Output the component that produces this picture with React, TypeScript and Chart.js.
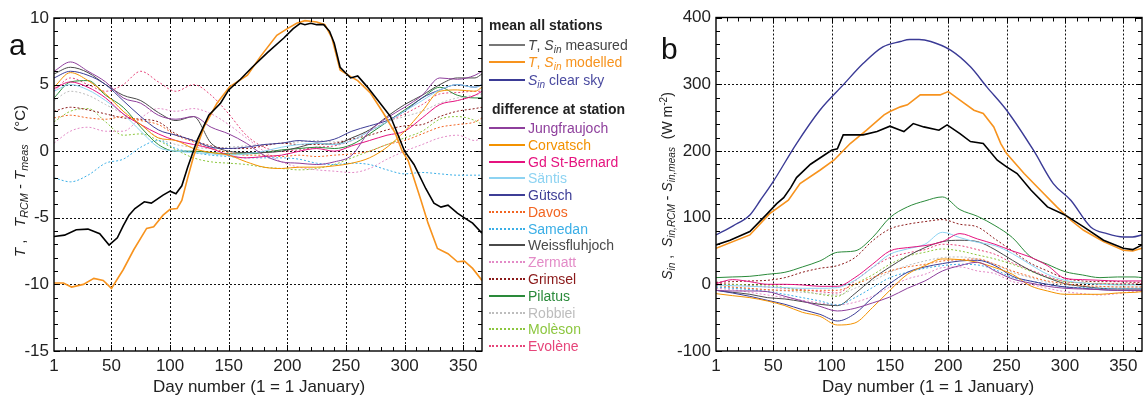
import React, { useEffect, useRef } from 'react';
import { Chart, registerables } from 'chart.js';

Chart.register(...registerables);

const FONT = "'Liberation Sans', Arial, Helvetica, sans-serif";

// ---------- axes ----------
const dayTicks = [1, 50, 100, 150, 200, 250, 300, 350];
const dayGrid = [50, 100, 150, 200, 250, 300, 350];
const tempTicks = [-15, -10, -5, 0, 5, 10];
const tempGrid = [-10, -5, 0, 5];
const radTicks = [-100, 0, 100, 200, 300, 400];
const radGrid = [0, 100, 200, 300];

// ---------- panel a: mean temperature ----------
const tMeasDays = [1, 10, 20, 30, 40, 48, 55, 60, 65, 70, 78, 84, 94, 100, 105, 110, 115, 123, 133, 143, 150, 160, 170, 183, 197, 205, 211, 215, 220, 225, 231, 236, 240, 245, 254, 260, 268, 277, 288, 300, 308, 318, 325, 331, 337, 345, 351, 358, 366];
const tMeas = [-6.4, -6.3, -5.9, -5.85, -6.2, -7.05, -6.5, -5.6, -4.8, -4.3, -3.8, -3.9, -3.3, -3.0, -3.2, -2.6, -1.2, 0.8, 2.7, 3.6, 4.6, 5.4, 6.3, 7.4, 8.5, 9.2, 9.6, 9.5, 9.6, 9.5, 9.5, 9.0, 8.1, 6.3, 5.5, 5.65, 4.85, 3.85, 2.6, 0.0, -1.0, -2.8, -3.9, -4.2, -4.05, -4.65, -5.0, -5.4, -6.15];

const tModDays = [1, 9, 16, 26, 35, 43, 50, 60, 69, 80, 86, 94, 100, 106, 110, 115, 120, 129, 140, 151, 166, 177, 191, 200, 208, 215, 225, 232, 238, 245, 254, 260, 271, 282, 292, 298, 303, 314, 320, 328, 337, 345, 351, 358, 366];
const tMod = [-9.9, -9.9, -10.2, -10.0, -9.55, -9.7, -10.3, -8.9, -7.4, -5.8, -5.67, -4.8, -4.36, -4.3, -3.7, -2.0, -0.4, 1.84, 3.6, 4.85, 5.7, 7.1, 8.7, 9.2, 9.6, 9.8, 9.7, 9.5, 8.5, 6.1, 5.6, 5.3, 4.35, 2.85, 1.35, 0.0, -0.7, -3.7, -5.4, -7.3, -7.7, -8.3, -8.25, -8.8, -9.7];

// ---------- panel b: mean radiation ----------
const sClearDays = [1, 16, 30, 39, 50, 70, 90, 110, 127, 144, 159, 167, 175, 185, 202, 219, 233, 250, 273, 290, 305, 322, 336, 350, 358, 366];
const sClear = [74, 88, 104, 126, 154, 211, 261, 299, 331, 356, 364, 367, 367, 364, 351, 326, 296, 261, 201, 151, 126, 86, 76, 71, 71, 74];

const sMeasDays = [1, 13, 30, 45, 53, 59, 65, 70, 82, 100, 105, 110, 127, 139, 150, 159, 162, 170, 179, 192, 199, 210, 219, 230, 242, 250, 259, 271, 285, 300, 316, 333, 350, 358, 366];
const sMeas = [59, 66, 79, 106, 121, 130, 145, 160, 180, 201, 203, 224, 224, 229, 237, 231, 229, 241, 236, 231, 239, 226, 214, 211, 186, 176, 166, 141, 116, 104, 86, 66, 54, 52, 59];

const sModDays = [1, 30, 47, 63, 73, 90, 102, 116, 130, 145, 150, 159, 165, 176, 193, 200, 210, 222, 230, 239, 245, 250, 265, 279, 293, 305, 316, 333, 350, 358, 366];
const sMod = [54, 74, 106, 126, 151, 171, 186, 211, 231, 254, 259, 266, 269, 284, 284, 289, 276, 261, 256, 236, 211, 196, 166, 141, 116, 96, 81, 64, 51, 50, 54];

// ---------- station differences ----------
const stationDays = [1, 15, 30, 45, 60, 75, 90, 105, 120, 135, 150, 165, 180, 195, 210, 225, 240, 255, 270, 285, 300, 315, 330, 345, 360, 366];

const tJungfraujoch = [6.0, 6.7, 6.0, 5.2, 4.0, 3.6, 2.7, 2.4, 2.6, 1.8, 1.3, 0.6, -0.3, -0.8, -0.9, -1.0, -0.8, -0.3, 1.5, 2.5, 3.3, 4.2, 5.5, 5.4, 5.7, 6.0];
const tCorvatsch = [4.8, 5.9, 5.3, 4.3, 3.0, 2.0, 1.0, 0.8, 0.2, -0.1, -0.3, -0.8, -1.2, -1.3, -1.2, -1.2, -1.1, -0.9, -0.5, 0.3, 1.5, 3.0, 4.5, 4.6, 4.5, 4.8];
const tGdStBernard = [4.7, 5.2, 4.8, 4.0, 2.8, 2.0, 1.3, 0.8, 0.5, 0.2, -0.3, -0.5, -0.4, -0.3, 0.0, 0.2, 0.0, 0.4, 0.8, 1.2, 1.5, 2.5, 3.5, 3.8, 4.2, 4.5];
const tSantis = [4.5, 5.0, 4.6, 3.8, 2.8, 1.5, 0.3, 0.0, -0.1, -0.2, -0.3, -0.2, 0.0, 0.3, 0.5, 0.6, 0.5, 0.8, 1.5, 2.2, 3.0, 3.8, 4.6, 5.0, 4.8, 5.0];
const tGutsch = [5.5, 6.0, 5.7, 5.0, 3.8, 2.6, 1.6, 1.2, 0.8, 0.3, 0.2, 0.3, 0.5, 0.6, 0.8, 0.7, 0.9, 1.5, 1.9, 2.3, 3.0, 4.0, 4.6, 5.0, 4.8, 5.0];
const tDavos = [2.5, 2.7, 2.5, 2.4, 2.6, 2.3, 2.0, 1.2, 0.7, 0.2, -0.1, -0.3, -0.3, -0.4, -0.3, -0.4, -0.3, -0.2, 0.0, 0.5, 0.8, 1.3, 1.8, 2.0, 2.2, 2.5];
const tSamedan = [-2.0, -2.3, -1.8, -0.9, -0.6, 0.3, 0.8, 0.2, -0.1, -0.3, -0.4, -0.5, -0.5, -0.5, -0.6, -0.9, -1.0, -0.9, -1.0, -1.4, -1.7, -1.6, -1.7, -1.8, -1.8, -1.8];
const tWeissfluhjoch = [5.8, 6.3, 5.9, 5.0, 4.2, 3.8, 2.9, 2.3, 2.6, 0.6, 0.0, -0.1, -0.1, 0.0, 0.3, 0.6, 0.5, 1.0, 1.6, 2.6, 3.5, 4.2, 5.0, 5.5, 5.5, 5.8];
const tZermatt = [0.6, 1.5, 1.8, 1.5, 1.5, 2.5, 3.2, 3.0, 3.2, 2.8, 2.0, 1.0, 0.0, -0.8, -1.2, -1.4, -1.5, -1.6, -1.3, -0.6, 0.0, 0.5, 1.0, 1.2, 0.8, 1.0];
const tGrimsel = [3.0, 3.3, 3.1, 2.8, 2.5, 2.4, 2.2, 1.3, 0.8, 0.4, 0.2, 0.2, 0.4, 0.6, 0.5, 0.5, 0.6, 0.9, 1.2, 1.6, 1.9, 2.0, 2.6, 3.0, 3.2, 3.3];
const tPilatus = [4.0, 5.2, 5.3, 4.2, 3.3, 1.8, 0.5, 0.0, 0.0, -0.1, -0.2, -0.2, -0.1, 0.1, 0.2, 0.3, 0.2, 0.5, 1.3, 2.2, 3.1, 4.0, 4.8, 4.2, 4.0, 4.0];
const tRobbiei = [3.8, 4.5, 4.2, 3.5, 2.8, 2.0, 1.0, 0.5, 0.3, 0.2, 0.3, 0.4, 0.5, 0.6, 0.7, 0.8, 0.7, 1.0, 1.6, 2.2, 2.6, 3.0, 3.6, 4.0, 4.2, 4.3];
const tMoleson = [2.2, 3.0, 3.2, 2.2, 1.2, 1.3, 0.8, 0.1, -0.5, -0.8, -0.9, -1.0, -1.2, -1.3, -1.4, -1.3, -1.0, -0.5, 0.0, 0.5, 1.0, 1.5, 2.4, 2.6, 2.3, 2.0];
const tEvolene = [4.5, 5.5, 5.0, 4.5, 5.0, 6.0, 5.2, 4.5, 5.0, 4.2, 2.8, 1.2, 0.3, 0.0, 0.1, 0.3, 0.4, 0.8, 1.5, 2.2, 2.8, 3.5, 4.3, 4.4, 4.5, 4.5];

const sJungfraujoch = [-9, -10, -10, -11, -18, -25, -33, -40, -36, -28, -19, -6, 5, 20, 28, 33, 20, 8, 2, -3, -6, -7, -8, -9, -9, -9];
const sCorvatsch = [-14, -17, -20, -25, -32, -42, -48, -61, -58, -35, -9, 15, 28, 38, 37, 33, 25, 15, -2, -10, -15, -15, -15, -13, -12, -11];
const sGdStBernard = [1, 7, 4, 0, 0, -1, -3, -3, 10, 30, 50, 55, 58, 64, 76, 68, 60, 50, 41, 28, 9, 7, 6, 5, 5, 5];
const sSantis = [-1, -2, -3, -4, -5, -6, -6, -5, 6, 25, 45, 53, 60, 78, 70, 63, 58, 46, 30, 15, 6, 2, 0, -1, -1, -1];
const sGutsch = [-9, -13, -18, -24, -30, -38, -45, -55, -44, -20, 1, 18, 26, 31, 35, 36, 28, 12, 5, 0, -4, -6, -8, -9, -9, -9];
const sDavos = [-1.5, -4, -6, -8, -9, -9, -9, -9, 0, 10, 20, 26, 30, 35, 37, 38, 30, 20, 12, 5, 1, -2, -3, -4, -4, -4];
const sSamedan = [-4, -6, -8, -11, -15, -20, -25, -31, -20, -5, 10, 18, 24, 28, 30, 29, 22, 10, 5, 0, -4, -5, -6, -6, -6, -6];
const sWeissfluhjoch = [-9, -12, -15, -20, -22, -26, -30, -32, -14, 8, 26, 42, 55, 64, 66, 64, 52, 36, 21, 10, 1, -3, -6, -7, -7, -7];
const sZermatt = [-6, -8, -12, -16, -20, -24, -28, -31, -27, -18, -4, 8, 15, 25, 26, 20, 16, 4, 0, -6, -11, -14, -16, -14, -11, -11];
const sGrimsel = [3, 4, 5, 6, 10, 18, 24, 28, 40, 65, 83, 90, 94, 97, 90, 86, 68, 50, 32, 20, 9, 5, 4, 4, 3, 3];
const sPilatus = [10, 11, 12, 15, 18, 26, 35, 48, 50, 70, 100, 116, 125, 131, 112, 102, 88, 70, 42, 30, 19, 14, 10, 11, 11, 10];
const sRobbiei = [-4, -5, -7, -9, -10, -12, -14, -16, -6, 5, 18, 28, 35, 40, 41, 38, 30, 18, 10, 3, -1, -3, -4, -4, -4, -4];
const sMoleson = [0, 0, -1, -1, -5, -10, -15, -18, 0, 14, 30, 42, 48, 53, 50, 44, 38, 30, 20, 10, 4, 2, 1, 0, 0, 0];
const sEvolene = [2, 0, -2, -4, -6, -8, -11, -13, 5, 25, 40, 47, 52, 60, 58, 52, 45, 32, 22, 12, 4, 2, 1, 1, 1, 1];

// ---------- station styles ----------
const stationNames = ['Jungfraujoch', 'Corvatsch', 'Gd St-Bernard', 'Säntis', 'Gütsch', 'Davos', 'Samedan', 'Weissfluhjoch', 'Zermatt', 'Grimsel', 'Pilatus', 'Robbiei', 'Molèson', 'Evolène'];
const stationColors = ['#8e3f9c', '#f39200', '#e5137f', '#8dd3f2', '#3d3d96', '#f26522', '#3aaee6', '#4a4a4a', '#e38bc7', '#8b1a1a', '#2a8a3a', '#bdbdbd', '#8cc63e', '#e6457a'];
const stationDotted = [false, false, false, false, false, true, true, false, true, true, false, true, true, true];
const stationTemp = [tJungfraujoch, tCorvatsch, tGdStBernard, tSantis, tGutsch, tDavos, tSamedan, tWeissfluhjoch, tZermatt, tGrimsel, tPilatus, tRobbiei, tMoleson, tEvolene];
const stationRad = [sJungfraujoch, sCorvatsch, sGdStBernard, sSantis, sGutsch, sDavos, sSamedan, sWeissfluhjoch, sZermatt, sGrimsel, sPilatus, sRobbiei, sMoleson, sEvolene];

const measColor = '#000000';
const modColor = '#f7931e';
const clearColor = '#3b3b96';

function series(label: string, days: number[], vals: number[], color: string, width: number, dotted: boolean, smooth: boolean) {
  return {
    label,
    data: days.map((d, i) => ({ x: d, y: vals[i] })),
    borderColor: color,
    backgroundColor: color,
    borderWidth: width,
    borderDash: dotted ? [2, 2] : [],
    pointRadius: 0,
    pointHoverRadius: 0,
    tension: 0,
    cubicInterpolationMode: smooth ? ('monotone' as const) : ('default' as const),
    fill: false,
  };
}

function framePlugin(cfg: { xGrid: number[]; yGrid: number[]; yMin: number; yMax: number; yMinor: number; yMajor: number }) {
  return {
    id: 'frameTicks',
    beforeDatasetsDraw(chart: any) {
      const { ctx, chartArea: a } = chart;
      const xs = chart.scales.x;
      const ys = chart.scales.y;
      ctx.save();
      ctx.strokeStyle = '#111';
      ctx.lineWidth = 1;
      ctx.setLineDash([2, 2]);
      ctx.beginPath();
      cfg.xGrid.forEach((v) => {
        const p = Math.round(xs.getPixelForValue(v)) + 0.5;
        ctx.moveTo(p, a.top);
        ctx.lineTo(p, a.bottom);
      });
      cfg.yGrid.forEach((v) => {
        const p = Math.round(ys.getPixelForValue(v)) + 0.5;
        ctx.moveTo(a.left, p);
        ctx.lineTo(a.right, p);
      });
      ctx.stroke();
      ctx.restore();
    },
    afterDatasetsDraw(chart: any) {
      const { ctx, chartArea: a } = chart;
      const xs = chart.scales.x;
      const ys = chart.scales.y;
      ctx.save();
      ctx.strokeStyle = '#000';
      ctx.lineWidth = 1;
      ctx.setLineDash([]);
      ctx.beginPath();
      for (let d = 10; d <= 360; d += 10) {
        const p = Math.round(xs.getPixelForValue(d)) + 0.5;
        const len = d % 50 === 0 ? 6 : 4;
        ctx.moveTo(p, a.bottom);
        ctx.lineTo(p, a.bottom - len);
        ctx.moveTo(p, a.top);
        ctx.lineTo(p, a.top + len);
      }
      for (let v = cfg.yMin; v <= cfg.yMax; v += cfg.yMinor) {
        const p = Math.round(ys.getPixelForValue(v)) + 0.5;
        const len = v % cfg.yMajor === 0 ? 6 : 4;
        ctx.moveTo(a.left, p);
        ctx.lineTo(a.left + len, p);
        ctx.moveTo(a.right, p);
        ctx.lineTo(a.right - len, p);
      }
      ctx.stroke();
      ctx.lineWidth = 1.4;
      ctx.strokeRect(a.left, a.top, a.right - a.left, a.bottom - a.top);
      ctx.restore();
    },
  };
}

function baseOptions(opts: { padTop: number; padRight: number; yWidth: number; yMin: number; yMax: number; yTicks: number[] }) {
  return {
    animation: false as const,
    responsive: false,
    devicePixelRatio: 1,
    events: [] as any[],
    layout: { padding: { top: opts.padTop, right: opts.padRight, left: 0, bottom: 0 } },
    plugins: { legend: { display: false }, tooltip: { enabled: false }, title: { display: false } },
    scales: {
      x: {
        type: 'linear' as const,
        min: 1,
        max: 366,
        afterBuildTicks: (s: any) => {
          s.ticks = dayTicks.map((v) => ({ value: v }));
        },
        afterFit: (s: any) => {
          s.height = 48;
        },
        grid: { display: false, drawTicks: false },
        border: { display: false },
        ticks: {
          autoSkip: false,
          maxRotation: 0,
          minRotation: 0,
          padding: 5,
          color: '#222',
          font: { family: FONT, size: 17 },
          callback: (v: any) => String(v),
        },
      },
      y: {
        type: 'linear' as const,
        min: opts.yMin,
        max: opts.yMax,
        afterBuildTicks: (s: any) => {
          s.ticks = opts.yTicks.map((v) => ({ value: v }));
        },
        afterFit: (s: any) => {
          s.width = opts.yWidth;
        },
        grid: { display: false, drawTicks: false },
        border: { display: false },
        ticks: {
          autoSkip: false,
          padding: 5,
          color: '#222',
          font: { family: FONT, size: 17 },
          callback: (v: any) => String(v),
        },
      },
    },
  };
}

const sub: React.CSSProperties = { fontSize: '0.72em', verticalAlign: '-0.3em', lineHeight: 0 };
const sup: React.CSSProperties = { fontSize: '0.72em', verticalAlign: '0.45em', lineHeight: 0 };

export default function App() {
  const leftRef = useRef<HTMLCanvasElement | null>(null);
  const rightRef = useRef<HTMLCanvasElement | null>(null);

  useEffect(() => {
    const leftSets = [
      series('T measured', tMeasDays, tMeas, measColor, 1.6, false, false),
      series('T modelled', tModDays, tMod, modColor, 1.6, false, false),
      ...stationNames.map((n, i) => series(n, stationDays, stationTemp[i], stationColors[i], 1, stationDotted[i], true)),
    ];
    const rightSets = [
      series('S measured', sMeasDays, sMeas, measColor, 1.6, false, false),
      series('S modelled', sModDays, sMod, modColor, 1.6, false, false),
      series('S clear sky', sClearDays, sClear, clearColor, 1.4, false, true),
      ...stationNames.map((n, i) => series(n, stationDays, stationRad[i], stationColors[i], 1, stationDotted[i], true)),
    ];

    const pl = framePlugin({ xGrid: dayGrid, yGrid: tempGrid, yMin: -15, yMax: 10, yMinor: 1, yMajor: 5 });
    const pr = framePlugin({ xGrid: dayGrid, yGrid: radGrid, yMin: -100, yMax: 400, yMinor: 20, yMajor: 100 });

    const c1 = new Chart(leftRef.current as HTMLCanvasElement, {
      type: 'line',
      data: { datasets: leftSets as any },
      options: baseOptions({ padTop: 18, padRight: 8, yWidth: 54, yMin: -15, yMax: 10, yTicks: tempTicks }) as any,
      plugins: [pl],
    });
    const c2 = new Chart(rightRef.current as HTMLCanvasElement, {
      type: 'line',
      data: { datasets: rightSets as any },
      options: baseOptions({ padTop: 17.5, padRight: 1, yWidth: 66, yMin: -100, yMax: 400, yTicks: radTicks }) as any,
      plugins: [pr],
    });
    return () => {
      c1.destroy();
      c2.destroy();
    };
  }, []);

  const legendRowsTop = [
    { y: 45, color: '#777', textColor: '#444', content: <><i>T</i>, <i>S</i><i style={sub}>in</i> measured</> },
    { y: 62, color: modColor, textColor: '#f7931e', content: <><i>T</i>, <i>S</i><i style={sub}>in</i> modelled</> },
    { y: 80, color: clearColor, textColor: '#4a4aa0', content: <><i>S</i><i style={sub}>in</i> clear sky</> },
  ];
  const stationY = [128, 145, 162, 178, 195, 212, 229, 245, 262, 279, 296, 313, 329, 346];

  const text: React.CSSProperties = { position: 'absolute', fontFamily: FONT, whiteSpace: 'nowrap' };

  return (
    <div style={{ position: 'absolute', left: 0, top: 0, width: 1143, height: 399, background: '#fff', overflow: 'hidden' }}>
      <canvas ref={leftRef} width={490} height={399} style={{ position: 'absolute', left: 0, top: 0, width: 490, height: 399 }} />
      <canvas ref={rightRef} width={493} height={399} style={{ position: 'absolute', left: 650, top: 0, width: 493, height: 399 }} />

      {/* panel letters */}
      <div style={{ ...text, left: 9, top: 30, fontSize: 30, lineHeight: '30px', color: '#111' }}>a</div>
      <div style={{ ...text, left: 661, top: 34, fontSize: 30, lineHeight: '30px', color: '#111' }}>b</div>

      {/* y titles */}
      <div style={{ ...text, left: 20, top: 181, fontSize: 15, lineHeight: '16px', color: '#222', transform: 'translate(-50%, -50%) rotate(-90deg)' }}>
        <i>T</i>&nbsp;,&nbsp;&nbsp;&nbsp;<i>T</i><i style={sub}>RCM</i> - <i>T</i><i style={sub}>meas</i>&nbsp;&nbsp;&nbsp;(°C)
      </div>
      <div style={{ ...text, left: 667, top: 186, fontSize: 14, lineHeight: '16px', color: '#222', transform: 'translate(-50%, -50%) rotate(-90deg)' }}>
        <i>S</i><i style={sub}>in</i>&nbsp;,&nbsp;&nbsp;<i>S</i><i style={sub}>in,RCM</i> - <i>S</i><i style={sub}>in,meas</i>&nbsp;&nbsp;(W m<span style={sup}>-2</span>)
      </div>

      {/* x titles */}
      <div style={{ ...text, left: 259, top: 387, fontSize: 17, lineHeight: '18px', color: '#222', transform: 'translate(-50%, -50%)' }}>Day number (1 = 1 January)</div>
      <div style={{ ...text, left: 928, top: 387, fontSize: 17, lineHeight: '18px', color: '#222', transform: 'translate(-50%, -50%)' }}>Day number (1 = 1 January)</div>

      {/* legend */}
      <div style={{ ...text, left: 489, top: 25 - 8, fontSize: 14, lineHeight: '16px', fontWeight: 'bold', color: '#222' }}>mean all stations</div>
      {legendRowsTop.map((r, i) => (
        <React.Fragment key={'m' + i}>
          <div style={{ position: 'absolute', left: 489, top: r.y - 1, width: 36, height: 0, borderTop: `2px solid ${r.color}` }} />
          <div style={{ ...text, left: 528, top: r.y - 8, fontSize: 14, lineHeight: '16px', color: r.textColor }}>{r.content}</div>
        </React.Fragment>
      ))}
      <div style={{ ...text, left: 492, top: 109 - 8, fontSize: 14, lineHeight: '16px', fontWeight: 'bold', color: '#222' }}>difference at station</div>
      {stationNames.map((n, i) => (
        <React.Fragment key={'s' + i}>
          <div style={{ position: 'absolute', left: 489, top: stationY[i] - 1, width: 36, height: 0, borderTop: `2px ${stationDotted[i] ? 'dotted' : 'solid'} ${stationColors[i]}` }} />
          <div style={{ ...text, left: 528, top: stationY[i] - 8, fontSize: 14, lineHeight: '16px', color: stationColors[i] }}>{n}</div>
        </React.Fragment>
      ))}
    </div>
  );
}
